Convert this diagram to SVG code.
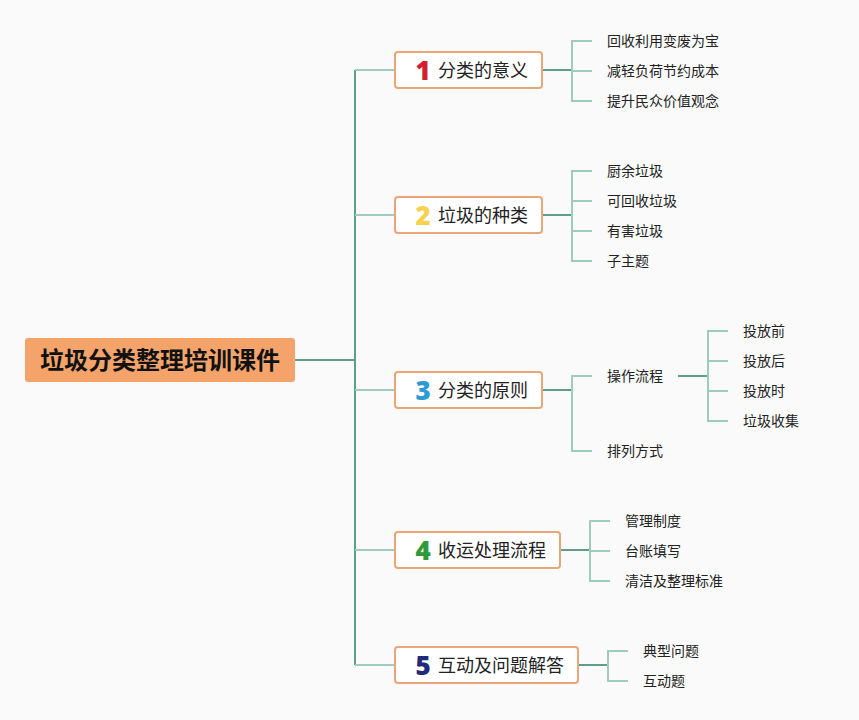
<svg xmlns="http://www.w3.org/2000/svg" width="859" height="720" viewBox="0 0 859 720">
<style>
.bg{fill:#fafafa}
.dark{stroke:#5f9e89;stroke-width:2;fill:none}
.light{stroke:#9fcdbd;stroke-width:2;fill:none}
.box{fill:#ffffff;stroke:#e9a677;stroke-width:2}
.t1{font-family:"Noto Sans CJK SC","Noto Sans",sans-serif;font-size:18px;fill:#222}
.t2{font-family:"Noto Sans CJK SC","Noto Sans",sans-serif;font-size:14px;fill:#222}
.num{font-family:"Noto Sans","DejaVu Sans",sans-serif;font-size:26px;font-weight:900}
.root{font-family:"Noto Sans CJK SC","Noto Sans",sans-serif;font-size:24px;font-weight:bold;fill:#111}
</style>
<rect class="bg" x="0" y="0" width="859" height="720"/>
<g id="connectors">
<path class="dark" d="M295 360H355"/>
<path class="dark" d="M355 70V665"/>
<path class="light" d="M355 70H395M355 215H395M355 390H395M355 550H395M355 665H395"/>
<path class="dark" d="M542 70H572M542 215H572M542 390H572M560 550H590M578 665H608M678 376H708"/>
<path class="light" d="M592 41H572V101H592M572 71H592"/>
<path class="light" d="M592 171H572V261H592M572 201H592M572 231H592"/>
<path class="light" d="M592 376H572V451H592"/>
<path class="light" d="M728 331H708V421H728M708 361H728M708 391H728"/>
<path class="light" d="M610 521H590V581H610M590 551H610"/>
<path class="light" d="M628 651H608V681H628"/>
</g>
<g id="root">
<rect x="25" y="338" width="270" height="44" rx="3" fill="#f4a36a"/>
<text class="root" x="160" y="369" text-anchor="middle">垃圾分类整理培训课件</text>
</g>
<g id="n1">
<rect class="box" x="395" y="52" width="147" height="36" rx="3"/>
<text class="num" x="423" y="79.5" text-anchor="middle" fill="#d4202e">1</text>
<text class="t1" x="438" y="77">分类的意义</text>
</g>
<g id="n2">
<rect class="box" x="395" y="197" width="147" height="36" rx="3"/>
<text class="num" x="423" y="224.5" text-anchor="middle" fill="#f3d24e">2</text>
<text class="t1" x="438" y="222">垃圾的种类</text>
</g>
<g id="n3">
<rect class="box" x="395" y="372" width="147" height="36" rx="3"/>
<text class="num" x="423" y="399.5" text-anchor="middle" fill="#2b9ad6">3</text>
<text class="t1" x="438" y="397">分类的原则</text>
</g>
<g id="n4">
<rect class="box" x="395" y="532" width="165" height="36" rx="3"/>
<text class="num" x="423" y="559.5" text-anchor="middle" fill="#2e9b3a">4</text>
<text class="t1" x="438" y="557">收运处理流程</text>
</g>
<g id="n5">
<rect class="box" x="395" y="647" width="183" height="36" rx="3"/>
<text class="num" x="423" y="674.5" text-anchor="middle" fill="#1f2a78">5</text>
<text class="t1" x="438" y="672">互动及问题解答</text>
</g>
<g id="n1-children">
<text class="t2" x="607" y="46">回收利用变废为宝</text>
<text class="t2" x="607" y="76">减轻负荷节约成本</text>
<text class="t2" x="607" y="106">提升民众价值观念</text>
</g>
<g id="n2-children">
<text class="t2" x="607" y="176">厨余垃圾</text>
<text class="t2" x="607" y="206">可回收垃圾</text>
<text class="t2" x="607" y="236">有害垃圾</text>
<text class="t2" x="607" y="266">子主题</text>
</g>
<g id="n3-children">
<text class="t2" x="607" y="381">操作流程</text>
<text class="t2" x="607" y="456">排列方式</text>
<text class="t2" x="743" y="336">投放前</text>
<text class="t2" x="743" y="366">投放后</text>
<text class="t2" x="743" y="396">投放时</text>
<text class="t2" x="743" y="426">垃圾收集</text>
</g>
<g id="n4-children">
<text class="t2" x="625" y="526">管理制度</text>
<text class="t2" x="625" y="556">台账填写</text>
<text class="t2" x="625" y="586">清洁及整理标准</text>
</g>
<g id="n5-children">
<text class="t2" x="643" y="656">典型问题</text>
<text class="t2" x="643" y="686">互动题</text>
</g>
</svg>
